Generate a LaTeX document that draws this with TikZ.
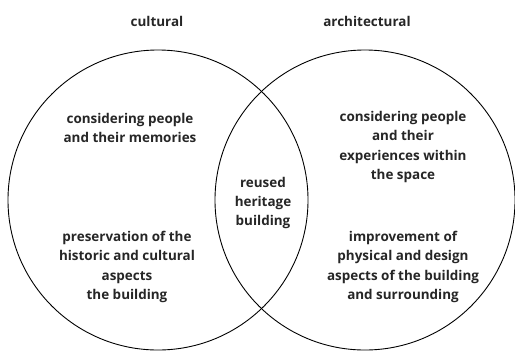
\documentclass[tikz,border=0pt]{standalone}
\usepackage{fontspec}
\setmainfont{Open Sans}
\begin{document}
\begin{tikzpicture}[x=1bp,y=-1bp,
	venn/.style={draw,circle,line width=0.9pt,minimum size=300bp,inner sep=0pt},
	txt/.style={align=center,font=\fontsize{13.5}{19.5}\selectfont\bfseries,text=black!85,inner sep=0pt}]
	\useasboundingbox (0,0) rectangle (515,352);
	\node[venn] (cultural) at (158,200) {};
	\node[venn] (architectural) at (365,200) {};
	\node[txt] (culttitle) at (157,21) {cultural};
	\node[txt] (archtitle) at (367,21) {architectural};
	\node[txt] (memories) at (130,128) {considering people\\and their memories};
	\node[txt] (preservation) at (127,267) {preservation of the\\historic and cultural\\aspects\\the building};
	\node[txt] (reused) at (263,203) {reused\\heritage\\building};
	\node[txt] (experiences) at (403,147) {considering people\\and their\\experiences within\\the space};
	\node[txt] (improvement) at (403,267) {improvement of\\physical and design\\aspects of the building\\and surrounding};
\end{tikzpicture}
\end{document}
